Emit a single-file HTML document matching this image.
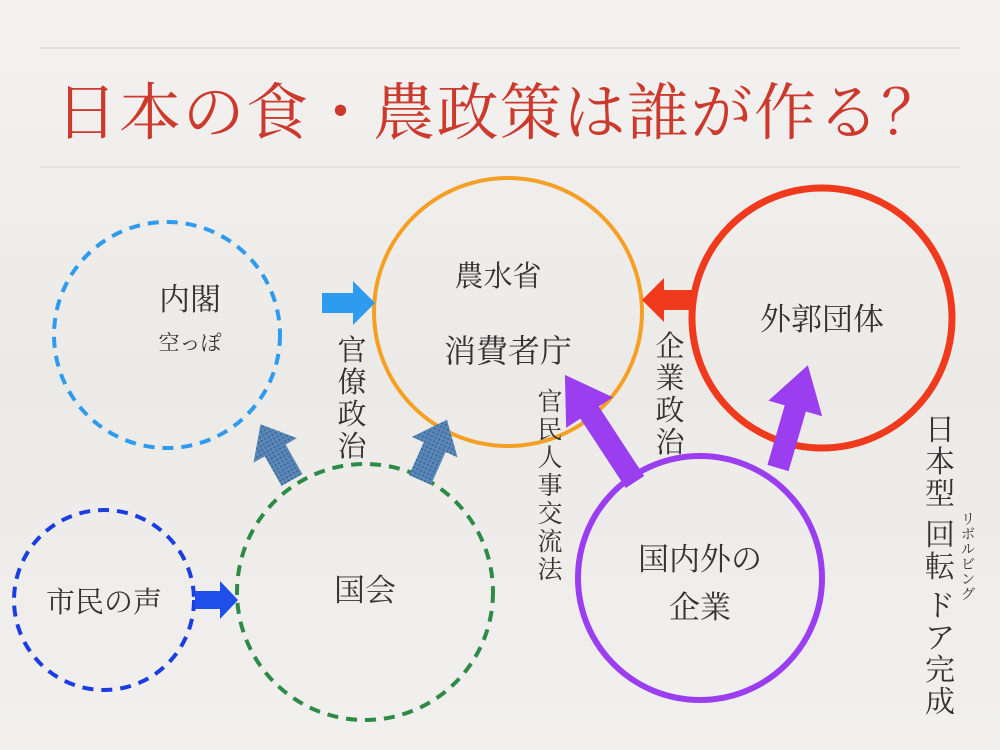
<!DOCTYPE html>
<html><head><meta charset="utf-8"><style>
html,body{margin:0;padding:0;}
body{width:1000px;height:750px;overflow:hidden;background:linear-gradient(180deg,#f3f2f0 0%,#eceae7 50%,#f1f0ee 100%);}
svg{display:block}
text{font-family:"Liberation Serif","Noto Serif CJK SC",serif;fill:#333;}
</style></head><body>
<svg width="1000" height="750" viewBox="0 0 1000 750">
<defs>
<pattern id="dots" width="4" height="4" patternUnits="userSpaceOnUse">
<rect width="4" height="4" fill="#5b88b8"/><rect width="2" height="2" fill="#3d6a98"/>
</pattern>
</defs>
<line x1="40" y1="48" x2="960" y2="48" stroke="#d6d4d0" stroke-width="1"/>
<line x1="40" y1="167" x2="960" y2="167" stroke="#d6d4d0" stroke-width="1"/>
<text x="500" y="134" text-anchor="middle" font-size="62" style="fill:#cc3a2e" letter-spacing="1.5">日本の食・農政策は誰が作る？</text>

<circle cx="167" cy="335" r="113" fill="none" stroke="#2f9bef" stroke-width="4" stroke-dasharray="11 8"/>
<circle cx="508" cy="312" r="134" fill="none" stroke="#f5a024" stroke-width="4"/>
<circle cx="822" cy="318" r="130" fill="none" stroke="#f03a1e" stroke-width="7"/>
<circle cx="104" cy="600" r="90" fill="none" stroke="#1a3ee0" stroke-width="4" stroke-dasharray="11 8"/>
<circle cx="365" cy="592" r="128" fill="none" stroke="#2e8b46" stroke-width="4" stroke-dasharray="11 8"/>
<circle cx="700" cy="578" r="122" fill="none" stroke="#9a3ef0" stroke-width="6"/>

<g transform="translate(322,303)"><polygon fill="#2f9bef" points="0,-10 31,-10 31,-22 53,0 31,22 31,10 0,10"/></g>
<g transform="translate(692,300) rotate(180)"><polygon fill="#f03a1e" points="0,-10 28,-10 28,-22 50,0 28,22 28,10 0,10"/></g>
<g transform="translate(195,600)"><polygon fill="#1f4fe8" points="0,-9 25,-9 25,-19 43,0 25,19 25,9 0,9"/></g>
<g transform="translate(292,480) rotate(-119.5)"><polygon fill="url(#dots)" points="0,-12 34,-12 34,-25 64,0 34,25 34,12 0,12"/></g>
<g transform="translate(420,480) rotate(-65.9)"><polygon fill="url(#dots)" points="0,-12 36,-12 36,-25 66,0 36,25 36,12 0,12"/></g>
<g transform="translate(635,482) rotate(-123.2)"><polygon fill="#9a3ef0" points="0,-11 83,-11 83,-28 128,0 83,28 83,11 0,11"/></g>
<g transform="translate(778,468) rotate(-73.8)"><polygon fill="#9a3ef0" points="0,-11 62,-11 62,-28 107,0 62,28 62,11 0,11"/></g>

<text x="190" y="310" text-anchor="middle" font-size="31">内閣</text>
<text x="190" y="350" text-anchor="middle" font-size="21">空っぽ</text>
<text x="498" y="286" text-anchor="middle" font-size="29">農水省</text>
<text x="508" y="362" text-anchor="middle" font-size="32">消費者庁</text>
<text x="822" y="330" text-anchor="middle" font-size="31">外郭団体</text>
<text x="104" y="612" text-anchor="middle" font-size="29">市民の声</text>
<text x="365" y="601" text-anchor="middle" font-size="31">国会</text>
<text x="700" y="570" text-anchor="middle" font-size="31">国内外の</text>
<text x="700" y="618" text-anchor="middle" font-size="31">企業</text>

<g font-size="29">
<text x="352" y="360" text-anchor="middle">官</text>
<text x="352" y="392" text-anchor="middle">僚</text>
<text x="352" y="424" text-anchor="middle">政</text>
<text x="352" y="456" text-anchor="middle">治</text>
<text x="670" y="356" text-anchor="middle">企</text>
<text x="670" y="388" text-anchor="middle">業</text>
<text x="670" y="420" text-anchor="middle">政</text>
<text x="670" y="452" text-anchor="middle">治</text>
</g>
<g font-size="25">
<text x="550" y="410" text-anchor="middle">官</text>
<text x="550" y="438" text-anchor="middle">民</text>
<text x="550" y="466" text-anchor="middle">人</text>
<text x="550" y="494" text-anchor="middle">事</text>
<text x="550" y="522" text-anchor="middle">交</text>
<text x="550" y="550" text-anchor="middle">流</text>
<text x="550" y="578" text-anchor="middle">法</text>
</g>
<g font-size="30">
<text x="940" y="440" text-anchor="middle">日</text>
<text x="940" y="472" text-anchor="middle">本</text>
<text x="940" y="504" text-anchor="middle">型</text>
<text x="940" y="545" text-anchor="middle">回</text>
<text x="940" y="577" text-anchor="middle">転</text>
<text x="940" y="616" text-anchor="middle">ド</text>
<text x="940" y="648" text-anchor="middle">ア</text>
<text x="940" y="680" text-anchor="middle">完</text>
<text x="940" y="712" text-anchor="middle">成</text>
</g>
<g font-size="14">
<text x="968" y="524" text-anchor="middle">リ</text>
<text x="968" y="539" text-anchor="middle">ボ</text>
<text x="968" y="554" text-anchor="middle">ル</text>
<text x="968" y="569" text-anchor="middle">ビ</text>
<text x="968" y="584" text-anchor="middle">ン</text>
<text x="968" y="599" text-anchor="middle">グ</text>
</g>
</svg>
</body></html>
